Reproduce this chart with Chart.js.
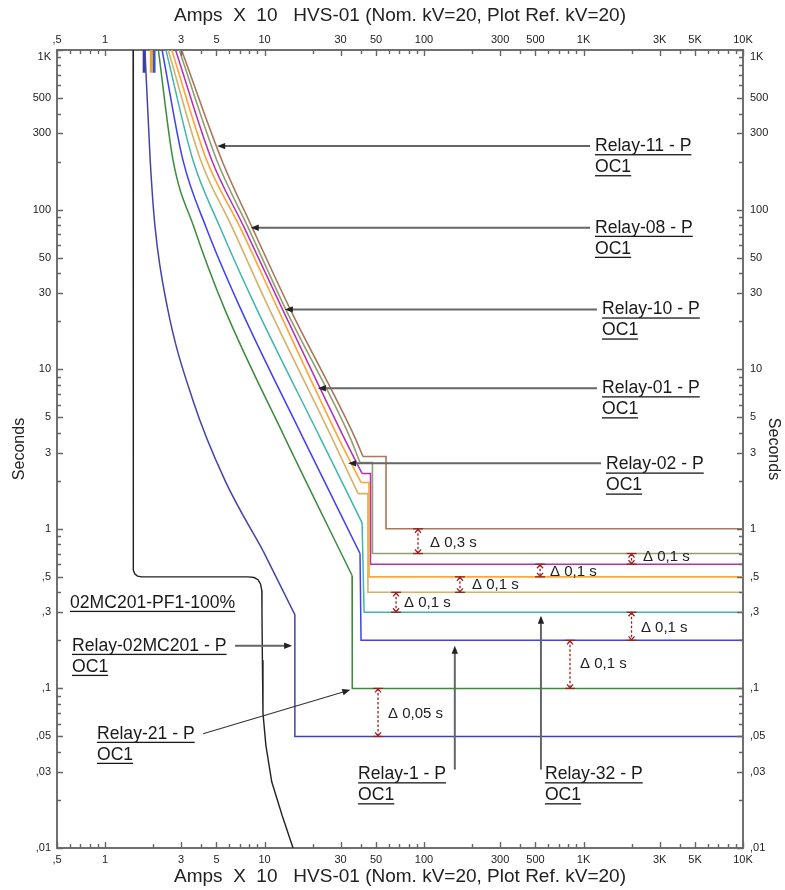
<!DOCTYPE html>
<html>
<head>
<meta charset="utf-8">
<script src="https://cdn.jsdelivr.net/npm/chart.js@4.4.1/dist/chart.umd.min.js"></script>
<style>
  html, body { margin: 0; padding: 0; background: #fff; }
  #chart { display: block; }
</style>
</head>
<body>
<canvas id="chart" width="785" height="890"></canvas>
<script>
// axis ticks (Amps x 10 / Seconds)
const xTickValues = [0.5, 1, 3, 5, 10, 30, 50, 100, 300, 500, 1000, 3000, 5000, 10000];
const xTickText = [',5', '1', '3', '5', '10', '30', '50', '100', '300', '500', '1K', '3K', '5K', '10K'];
const yTickValues = [0.01, 0.03, 0.05, 0.1, 0.3, 0.5, 1, 3, 5, 10, 30, 50, 100, 300, 500, 1000];
const yTickText = [',01', ',03', ',05', ',1', ',3', ',5', '1', '3', '5', '10', '30', '50', '100', '300', '500', '1K'];

// curves: [amps x 10, seconds]
const relay11Curve = [[3.02, 1000], [5.4, 204], [8.35, 77.6], [14.3, 24.4], [36.9, 3.73], [41.4, 2.84]];
const relay11Step = [[41.4, 2.84], [57.8, 2.84], [57.8, 1.0], [10000, 1.0]];
const relay08Curve = [[2.92, 1000], [5.02, 204], [7.88, 77.6], [13.4, 24.4], [34.4, 3.73], [39.7, 2.6]];
const relay08Step = [[39.7, 2.6], [47.5, 2.6], [47.5, 0.7], [10000, 0.7]];
const relay10Curve = [[2.77, 1000], [4.67, 204], [7.44, 77.6], [12.8, 24.4], [31.5, 3.73], [40.9, 2.22]];
const relay10Step = [[40.9, 2.22], [46.2, 2.22], [46.2, 0.6], [10000, 0.6]];
const relay01Curve = [[2.62, 1000], [4.34, 204], [7.02, 77.6], [12.0, 24.4], [29.0, 3.73], [40.3, 1.95]];
const relay01Step = [[40.3, 1.95], [45.2, 1.95], [45.2, 0.5], [10000, 0.5]];
const relay02Curve = [[2.49, 1000], [3.98, 204], [6.26, 77.6], [10.6, 24.4], [26.4, 3.73], [38.6, 1.66]];
const relay02Step = [[38.6, 1.66], [44.5, 1.66], [44.5, 0.4], [10000, 0.4]];
const relay32Curve = [[2.41, 1000], [3.56, 204], [5.26, 77.6], [8.84, 24.4], [22.3, 3.73], [40.9, 1.09]];
const relay32Step = [[40.9, 1.09], [42.1, 0.3], [10000, 0.3]];
const relay1Curve = [[2.28, 1000], [3.08, 204], [4.3, 77.6], [7.02, 24.4], [17.4, 3.73], [39.7, 0.7]];
const relay1Step = [[39.7, 0.7], [40.3, 0.2], [10000, 0.2]];
const relay21Curve = [[2.16, 1000], [2.67, 204], [3.61, 77.6], [5.57, 24.4], [13.4, 3.73], [35.4, 0.51]];
const relay21Step = [[35.4, 0.51], [35.5, 0.1], [10000, 0.1]];
const relayMcCurve = [[1.78, 1000], [1.92, 204], [2.06, 77.6], [2.46, 24.4], [3.56, 6.37], [5.65, 2.01], [9.78, 0.73]];
const relayMcStep = [[9.78, 0.73], [15.5, 0.29], [15.5, 0.05], [10000, 0.05]];
const motorCurve = [[1.5, 1000], [1.5, 0.6], [1.51, 0.55], [1.54, 0.52], [1.6, 0.505], [1.7, 0.5], [7.9, 0.5],
  [8.6, 0.495], [9.1, 0.48], [9.45, 0.45], [9.62, 0.41], [9.64, 0.3], [9.7, 0.15], [9.78, 0.07],
  [10.2, 0.044], [11.1, 0.026], [12.9, 0.016], [15.1, 0.01]];
const stubNavy = [[1.76, 1000], [1.76, 720]];
const stubOrange = [[1.95, 1000], [1.95, 720]];
const stubBlue = [[2.03, 1000], [2.03, 720]];

// labels, arrows and coordination margins
const noteLabels = [
  { lines: ['Relay-11 - P', 'OC1'], at: [1180, 250] },
  { lines: ['Relay-08 - P', 'OC1'], at: [1180, 77] },
  { lines: ['Relay-10 - P', 'OC1'], at: [1306, 23.7] },
  { lines: ['Relay-01 - P', 'OC1'], at: [1306, 7.6] },
  { lines: ['Relay-02 - P', 'OC1'], at: [1383, 2.53] },
  { lines: ['02MC201-PF1-100%'], at: [0.603, 0.344] },
  { lines: ['Relay-02MC201 - P', 'OC1'], at: [0.621, 0.185] },
  { lines: ['Relay-21 - P', 'OC1'], at: [0.89, 0.052] },
  { lines: ['Relay-1 - P', 'OC1'], at: [38.6, 0.029] },
  { lines: ['Relay-32 - P', 'OC1'], at: [573, 0.029] }
];
const noteArrows = [
  { from: [1100, 250], to: [5.05, 250] },
  { from: [1100, 77], to: [8.2, 77] },
  { from: [1215, 23.7], to: [13.4, 23.7] },
  { from: [1215, 7.6], to: [21.6, 7.6] },
  { from: [1288, 2.57], to: [33.4, 2.57] },
  { from: [6.53, 0.185], to: [14.9, 0.185] },
  { from: [4.12, 0.052], to: [34.5, 0.098], thin: true },
  { from: [156, 0.031], to: [156, 0.185] },
  { from: [541, 0.031], to: [541, 0.285] }
];
const deltaMarks = [
  { x: 91.7, t: [1.0, 0.7], text: 'Δ 0,3 s', at: [109, 0.82] },
  { x: 2000, t: [0.7, 0.6], text: 'Δ 0,1 s', at: [2360, 0.669] },
  { x: 534, t: [0.6, 0.5], text: 'Δ 0,1 s', at: [616, 0.539] },
  { x: 168, t: [0.5, 0.4], text: 'Δ 0,1 s', at: [200, 0.447] },
  { x: 66.8, t: [0.4, 0.3], text: 'Δ 0,1 s', at: [74.9, 0.344] },
  { x: 2000, t: [0.3, 0.2], text: 'Δ 0,1 s', at: [2290, 0.24] },
  { x: 823, t: [0.2, 0.1], text: 'Δ 0,1 s', at: [950, 0.1426] },
  { x: 51.5, t: [0.1, 0.05], text: 'Δ 0,05 s', at: [59.5, 0.069] }
];

const FONT = '"Liberation Sans", Arial, sans-serif';
const TITLE = 'Amps  X  10   HVS-01 (Nom. kV=20, Plot Ref. kV=20)';

function line(points, color, width, smooth) {
  return {
    data: points.map(p => ({ x: p[0], y: p[1] })),
    borderColor: color,
    borderWidth: width || 1.6,
    pointRadius: 0,
    fill: false,
    tension: 0,
    cubicInterpolationMode: smooth ? 'monotone' : 'default'
  };
}

function logSteps(lo, hi) {
  const out = [];
  for (let d = lo; d < hi * 0.99; d *= 10) {
    for (let k = 1; k < 10; k++) out.push(+(d * k).toPrecision(6));
  }
  out.push(hi);
  return out;
}

function axis(position, min, max, values, texts, size, tickPad, titlePad, titleSize) {
  return {
    type: 'logarithmic',
    position: position,
    min: min,
    max: max,
    afterBuildTicks: s => { s.ticks = values.map(v => ({ value: v })); },
    afterFit: s => { if (s.isHorizontal()) s.height = size; else s.width = size; },
    ticks: {
      autoSkip: false,
      maxRotation: 0,
      padding: tickPad,
      color: '#222',
      font: { family: FONT, size: 11 },
      callback: v => {
        const i = values.indexOf(v);
        if (i < 0) return '';
        // the top label sits just inside the frame
        if (v === 1000 && (position === 'left' || position === 'right')) return ['', texts[i]];
        return texts[i];
      }
    },
    grid: { drawOnChartArea: false, drawTicks: false },
    border: { color: '#707070', width: 2 },
    title: {
      display: true,
      text: (position === 'left' || position === 'right') ? 'Seconds' : TITLE,
      color: '#222',
      font: { family: FONT, size: titleSize },
      padding: titlePad
    }
  };
}

function drawArrow(ctx, x1, y1, x2, y2, thin) {
  const a = Math.atan2(y2 - y1, x2 - x1), h = 8, w = 3.2;
  ctx.strokeStyle = thin ? '#333' : '#666';
  ctx.lineWidth = thin ? 1.1 : 2;
  ctx.beginPath();
  ctx.moveTo(x1, y1);
  ctx.lineTo(x2 - Math.cos(a) * h * 0.6, y2 - Math.sin(a) * h * 0.6);
  ctx.stroke();
  ctx.fillStyle = '#222';
  ctx.beginPath();
  ctx.moveTo(x2, y2);
  ctx.lineTo(x2 - h * Math.cos(a) + w * Math.sin(a), y2 - h * Math.sin(a) - w * Math.cos(a));
  ctx.lineTo(x2 - h * Math.cos(a) - w * Math.sin(a), y2 - h * Math.sin(a) + w * Math.cos(a));
  ctx.closePath();
  ctx.fill();
}

function drawDelta(ctx, x, yTop, yBot) {
  ctx.strokeStyle = '#9a1f1f';
  ctx.lineWidth = 1.3;
  ctx.setLineDash([2.5, 2]);
  ctx.beginPath();
  ctx.moveTo(x, yTop);
  ctx.lineTo(x, yBot);
  ctx.stroke();
  ctx.setLineDash([]);
  [[yTop, 1], [yBot, -1]].forEach(([y, d]) => {
    ctx.beginPath();
    ctx.moveTo(x - 5, y);
    ctx.lineTo(x + 5, y);
    ctx.stroke();
    ctx.beginPath();
    ctx.moveTo(x - 3, y + d * 4);
    ctx.lineTo(x, y + d * 0.5);
    ctx.lineTo(x + 3, y + d * 4);
    ctx.stroke();
  });
}

const notesPlugin = {
  id: 'notes',
  afterDatasetsDraw(chart) {
    const ctx = chart.ctx;
    const xs = chart.scales.x, ys = chart.scales.y;
    const px = v => xs.getPixelForValue(v);
    const py = v => ys.getPixelForValue(v);
    const area = chart.chartArea;
    ctx.save();

    // inside tick marks on all four sides
    ctx.strokeStyle = '#666';
    ctx.lineWidth = 1.4;
    logSteps(0.1, 10000).filter(v => v >= 0.5).forEach(v => {
      const x = Math.round(px(v)) + 0.5;
      const len = xTickValues.includes(v) ? 6 : 4;
      ctx.beginPath();
      ctx.moveTo(x, area.top); ctx.lineTo(x, area.top + len);
      ctx.moveTo(x, area.bottom); ctx.lineTo(x, area.bottom - len);
      ctx.stroke();
    });
    logSteps(0.01, 1000).forEach(v => {
      const y = Math.round(py(v)) + 0.5;
      const len = yTickValues.includes(v) ? 6 : 4;
      ctx.beginPath();
      ctx.moveTo(area.left, y); ctx.lineTo(area.left + len, y);
      ctx.moveTo(area.right, y); ctx.lineTo(area.right - len, y);
      ctx.stroke();
    });

    noteArrows.forEach(a => drawArrow(ctx, px(a.from[0]), py(a.from[1]), px(a.to[0]), py(a.to[1]), a.thin));

    ctx.font = '17.6px ' + FONT;
    ctx.textBaseline = 'middle';
    ctx.textAlign = 'left';
    ctx.fillStyle = '#1a1a1a';
    noteLabels.forEach(n => {
      const x0 = px(n.at[0]), y0 = py(n.at[1]);
      n.lines.forEach((s, i) => {
        const y = y0 + i * 21;
        ctx.fillText(s, x0, y);
        const w = ctx.measureText(s).width;
        ctx.fillRect(x0, y + 8, w, 1.3);
      });
    });

    deltaMarks.forEach(d => drawDelta(ctx, px(d.x), py(d.t[0]), py(d.t[1])));
    ctx.font = '15px ' + FONT;
    ctx.fillStyle = '#222';
    deltaMarks.forEach(d => ctx.fillText(d.text, px(d.at[0]), py(d.at[1])));

    ctx.restore();
  }
};

new Chart(document.getElementById('chart'), {
  type: 'line',
  data: {
    datasets: [
      line(motorCurve, '#222222', 1.4, false),
      line(relayMcCurve, '#4444a8', 1.5, true),
      line(relayMcStep, '#4444a8', 1.5, false),
      line(relay21Curve, '#3d8b3d', 1.5, true),
      line(relay21Step, '#3d8b3d', 1.5, false),
      line(relay1Curve, '#3f3ff5', 1.5, true),
      line(relay1Step, '#3f3ff5', 1.5, false),
      line(relay32Curve, '#40b5b0', 1.5, true),
      line(relay32Step, '#40b5b0', 1.5, false),
      line(relay02Curve, '#d4b26a', 1.6, true),
      line(relay02Step, '#d4b26a', 1.6, false),
      line(relay01Curve, '#ffa533', 1.6, true),
      line(relay01Step, '#ffa533', 1.6, false),
      line(relay10Curve, '#b52fb5', 1.5, true),
      line(relay10Step, '#b52fb5', 1.5, false),
      line(relay08Curve, '#929e72', 1.6, true),
      line(relay08Step, '#929e72', 1.6, false),
      line(relay11Curve, '#a9775a', 1.6, true),
      line(relay11Step, '#a9775a', 1.6, false),
      line(stubNavy, '#3a3aa0', 3, false),
      line(stubOrange, '#f0a030', 3, false),
      line(stubBlue, '#3355cc', 3, false)
    ]
  },
  options: {
    responsive: false,
    animation: false,
    devicePixelRatio: 1,
    events: [],
    layout: { padding: 0 },
    plugins: {
      legend: { display: false },
      tooltip: { enabled: false }
    },
    scales: {
      x: axis('bottom', 0.5, 10000, xTickValues, xTickText, 42, 5, { top: 0, bottom: 2 }, 19),
      x2: axis('top', 0.5, 10000, xTickValues, xTickText, 50, 3, { top: 4, bottom: 0 }, 19),
      y: axis('left', 0.01, 1000, yTickValues, yTickText, 57, 6, { top: 10, bottom: 0 }, 16),
      y2: axis('right', 0.01, 1000, yTickValues, yTickText, 42, 7, { top: 2, bottom: 0 }, 16)
    }
  },
  plugins: [notesPlugin]
});
</script>
</body>
</html>
